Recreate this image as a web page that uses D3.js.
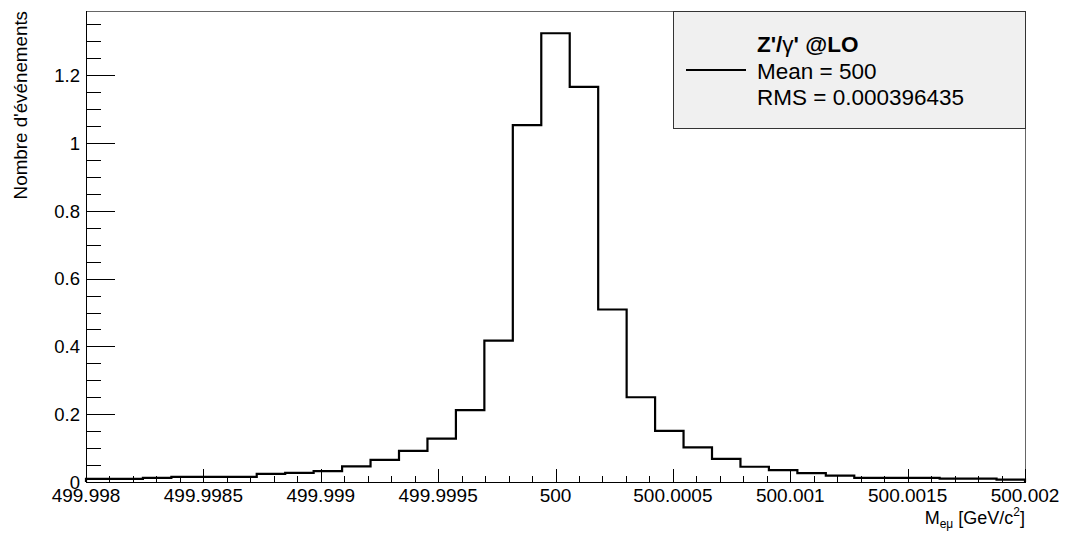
<!DOCTYPE html>
<html>
<head>
<meta charset="utf-8">
<script src="https://cdn.jsdelivr.net/npm/d3@7"></script>
<style>
  body { margin: 0; background: #fff; }
  svg text { font-family: "Liberation Sans", Arial, Helvetica, sans-serif; fill: #000; }
</style>
</head>
<body>
<div class="chart"></div>
<script>
// histogram: 33 bins between 499.998 and 500.002
const xMin = 499.998, xMax = 500.002;
const binValues = [0.009, 0.009, 0.012, 0.015, 0.015, 0.015, 0.024, 0.027, 0.032, 0.046,
  0.065, 0.092, 0.128, 0.212, 0.417, 1.053, 1.324, 1.166, 0.509, 0.250,
  0.151, 0.102, 0.068, 0.045, 0.035, 0.026, 0.019, 0.012, 0.012, 0.012,
  0.010, 0.010, 0.007];
const xTicks = [499.998, 499.9985, 499.999, 499.9995, 500, 500.0005, 500.001, 500.0015, 500.002];
const xTickLabels = ["499.998", "499.9985", "499.999", "499.9995", "500", "500.0005", "500.001", "500.0015", "500.002"];
const yTicks = [0, 0.2, 0.4, 0.6, 0.8, 1, 1.2];
const yTickLabels = ["0", "0.2", "0.4", "0.6", "0.8", "1", "1.2"];
const legendMean = "Mean = 500";
const legendRms = "RMS = 0.000396435";

const W = 1066, H = 537;
const frame = {left: 86, right: 1025, top: 11, bottom: 482};

const svg = d3.select(".chart").append("svg")
  .attr("width", W).attr("height", H);

const x = d3.scaleLinear().domain([xMin, xMax]).range([frame.left, frame.right]);
const y = d3.scaleLinear().domain([0, 1.3897]).range([frame.bottom, frame.top]);

const nBins = binValues.length;
const binW = (xMax - xMin) / nBins;

// frame
svg.append("rect")
  .attr("x", frame.left + 0.5).attr("y", frame.top + 0.5)
  .attr("width", frame.right - frame.left).attr("height", frame.bottom - frame.top)
  .attr("fill", "none").attr("stroke", "#666").attr("stroke-width", 1);

// histogram outline
let pts = [[x(xMin), y(0)]];
binValues.forEach((v, i) => {
  pts.push([x(xMin + i * binW), y(v)]);
  pts.push([x(xMin + (i + 1) * binW), y(v)]);
});
pts.push([x(xMax), y(0)]);
svg.append("path")
  .attr("d", d3.line()(pts))
  .attr("fill", "none").attr("stroke", "#000").attr("stroke-width", 2.2)
  .attr("stroke-linejoin", "miter");

// x axis
const xMinor = d3.range(0, 41).map(i => xMin + i * 0.0001);
const xAxisMinor = d3.axisTop(x).tickValues(xMinor).tickSize(7).tickFormat("");
const xAxisMajor = d3.axisTop(x).tickValues(xTicks).tickSize(13.5).tickFormat("");
[xAxisMinor, xAxisMajor].forEach(ax => {
  const g = svg.append("g").attr("transform", `translate(0,${frame.bottom + 0.5})`).call(ax);
  g.select(".domain").remove();
  g.selectAll("line").attr("stroke", "#000").attr("shape-rendering", "crispEdges");
});
svg.append("line")
  .attr("x1", frame.left).attr("x2", frame.right)
  .attr("y1", frame.bottom + 0.5).attr("y2", frame.bottom + 0.5)
  .attr("stroke", "#000");
svg.append("g").selectAll("text")
  .data(xTicks)
  .join("text")
  .attr("x", d => x(d)).attr("y", 502)
  .attr("text-anchor", "middle")
  .attr("font-size", 19)
  .text((d, i) => xTickLabels[i]);

// y axis
const yMinor = d3.range(0, 28).map(i => i * 0.05);
const yAxisMinor = d3.axisRight(y).tickValues(yMinor).tickSize(14).tickFormat("");
const yAxisMajor = d3.axisRight(y).tickValues(yTicks).tickSize(28).tickFormat("");
[yAxisMinor, yAxisMajor].forEach(ax => {
  const g = svg.append("g").attr("transform", `translate(${frame.left + 0.5},0)`).call(ax);
  g.select(".domain").remove();
  g.selectAll("line").attr("stroke", "#000").attr("shape-rendering", "crispEdges");
});
svg.append("line")
  .attr("x1", frame.left + 0.5).attr("x2", frame.left + 0.5)
  .attr("y1", frame.top).attr("y2", frame.bottom + 1)
  .attr("stroke", "#000");
svg.append("g").selectAll("text")
  .data(yTicks)
  .join("text")
  .attr("x", 80).attr("y", d => y(d))
  .attr("dy", "0.36em")
  .attr("text-anchor", "end")
  .attr("font-size", 18.5)
  .text((d, i) => yTickLabels[i]);

// axis titles
svg.append("text")
  .attr("transform", "translate(27,11) rotate(-90)")
  .attr("text-anchor", "end")
  .attr("font-size", 18.8)
  .text("Nombre d'événements");

const xt = svg.append("text")
  .attr("x", 1025).attr("y", 524)
  .attr("text-anchor", "end")
  .attr("font-size", 18);
xt.append("tspan").text("M");
xt.append("tspan").attr("font-size", 12).attr("dy", 4).text("eμ");
xt.append("tspan").attr("dy", -4).text(" [GeV/c");
xt.append("tspan").attr("font-size", 12).attr("dy", -8).text("2");
xt.append("tspan").attr("dy", 8).text("]");

// legend
const lg = svg.append("g");
lg.append("rect")
  .attr("x", 673.5).attr("y", frame.top + 0.5)
  .attr("width", frame.right - 673).attr("height", 117)
  .attr("fill", "#f0f0f0").attr("stroke", "#333").attr("stroke-width", 1);
lg.append("line")
  .attr("x1", 686).attr("x2", 746).attr("y1", 70).attr("y2", 70)
  .attr("stroke", "#000").attr("stroke-width", 2.2);
const t1 = lg.append("text")
  .attr("x", 757).attr("y", 52)
  .attr("font-size", 22.5).attr("font-weight", "bold");
t1.append("tspan").text("Z'/");
t1.append("tspan").attr("font-weight", "normal").text("γ");
t1.append("tspan").text("' @LO");
lg.append("text").attr("x", 757).attr("y", 79).attr("font-size", 22.5).text(legendMean);
lg.append("text").attr("x", 757).attr("y", 105).attr("font-size", 22.5).text(legendRms);
</script>
</body>
</html>
